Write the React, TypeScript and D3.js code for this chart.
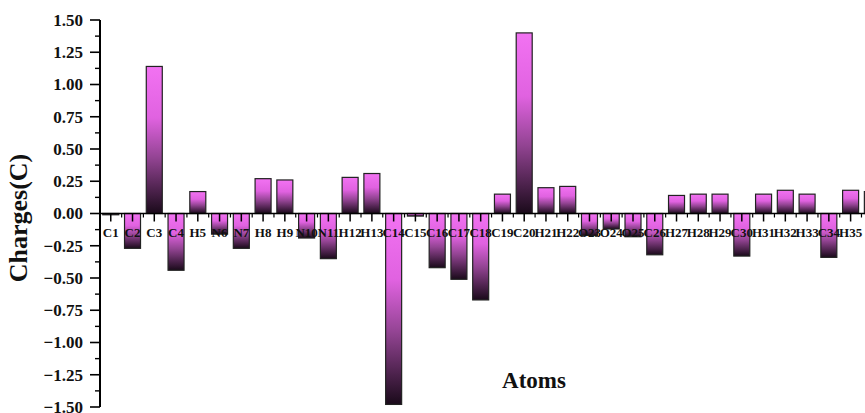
import React from 'react';
import * as d3 from 'd3';

// atom labels along the x axis
const atoms = [
  'C1', 'C2', 'C3', 'C4', 'H5', 'N6', 'N7', 'H8', 'H9', 'N10',
  'N11', 'H12', 'H13', 'C14', 'C15', 'C16', 'C17', 'C18', 'C19', 'C20',
  'H21', 'H22', 'O23', 'O24', 'O25', 'C26', 'H27', 'H28', 'H29', 'C30',
  'H31', 'H32', 'H33', 'C34', 'H35', 'H36',
];

// Mulliken charges
const charges = [
  -0.01, -0.27, 1.14, -0.44, 0.17, -0.16, -0.27, 0.27, 0.26, -0.19,
  -0.35, 0.28, 0.31, -1.48, -0.02, -0.42, -0.51, -0.67, 0.15, 1.40,
  0.20, 0.21, -0.17, -0.12, -0.18, -0.32, 0.14, 0.15, 0.15, -0.33,
  0.15, 0.18, 0.15, -0.34, 0.18, 0.17,
];

const yTicks = [-1.5, -1.25, -1.0, -0.75, -0.5, -0.25, 0, 0.25, 0.5, 0.75, 1.0, 1.25, 1.5];

export default function App() {
  const width = 865;
  const height = 413;
  const axisX = 100;
  const step = 21.76;
  const pad = 0.265;
  const font = '"Liberation Serif", "Times New Roman", serif';

  const x = d3.scaleBand<string>()
    .domain(atoms)
    .range([97, 97 + step * (atoms.length + pad)])
    .padding(pad);

  const y = d3.scaleLinear().domain([-1.5, 1.5]).range([407, 20]);
  const fmt = d3.format('.2f');
  const y0 = y(0);

  const minorY = yTicks.slice(0, -1).map((t, i) => (t + yTicks[i + 1]) / 2);

  return (
    <svg
      width={width}
      height={height}
      style={{ position: 'absolute', left: 0, top: 0, background: '#fff' }}
    >
      <defs>
        <linearGradient id="barGrad" x1="0" y1="0" x2="0" y2="1">
          <stop offset="0%" stopColor="#f272f2" />
          <stop offset="35%" stopColor="#e062e0" />
          <stop offset="62%" stopColor="#934493" />
          <stop offset="100%" stopColor="#1a0a1a" />
        </linearGradient>
      </defs>

      {/* bars */}
      <g>
        {atoms.map((a, i) => {
          const v = charges[i];
          const top = v >= 0 ? y(v) : y0;
          const h = Math.abs(y(v) - y0);
          return (
            <rect
              key={a}
              x={x(a)}
              y={top}
              width={x.bandwidth()}
              height={h}
              fill="url(#barGrad)"
              stroke="#222"
              strokeWidth={1.2}
            />
          );
        })}
      </g>

      {/* x axis at zero */}
      <g>
        <line x1={axisX} x2={width} y1={y0} y2={y0} stroke="#000" strokeWidth={1.6} />
        {atoms.map((a) => {
          const cx = (x(a) ?? 0) + x.bandwidth() / 2;
          return (
            <g key={a}>
              <line x1={cx} x2={cx} y1={y0} y2={y0 + 8} stroke="#000" strokeWidth={1.5} />
              <line x1={cx - step / 2} x2={cx - step / 2} y1={y0} y2={y0 + 4} stroke="#000" strokeWidth={1.2} />
              {cx < width - 12 && (
                <text
                  x={cx}
                  y={y0 + 23}
                  textAnchor="middle"
                  fontFamily={font}
                  fontWeight="bold"
                  fontSize={13}
                  fill="#111"
                >
                  {a}
                </text>
              )}
            </g>
          );
        })}
      </g>

      {/* y axis */}
      <g>
        <line x1={axisX} x2={axisX} y1={y(1.5)} y2={y(-1.5)} stroke="#000" strokeWidth={2} />
        {yTicks.map((t) => (
          <g key={t}>
            <line x1={axisX - 10} x2={axisX} y1={y(t)} y2={y(t)} stroke="#000" strokeWidth={1.6} />
            <text
              x={83}
              y={y(t)}
              dy="0.35em"
              textAnchor="end"
              fontFamily={font}
              fontWeight="bold"
              fontSize={17}
              fill="#111"
            >
              {fmt(t)}
            </text>
          </g>
        ))}
        {minorY.map((t) => (
          <line key={t} x1={axisX - 5} x2={axisX} y1={y(t)} y2={y(t)} stroke="#000" strokeWidth={1.4} />
        ))}
      </g>

      {/* titles */}
      <text
        transform={`translate(27,${218}) rotate(-90)`}
        textAnchor="middle"
        fontFamily={font}
        fontWeight="bold"
        fontSize={26}
        fill="#111"
      >
        Charges(C)
      </text>
      <text
        x={534}
        y={388}
        textAnchor="middle"
        fontFamily={font}
        fontWeight="bold"
        fontSize={23}
        fill="#111"
      >
        Atoms
      </text>
    </svg>
  );
}
